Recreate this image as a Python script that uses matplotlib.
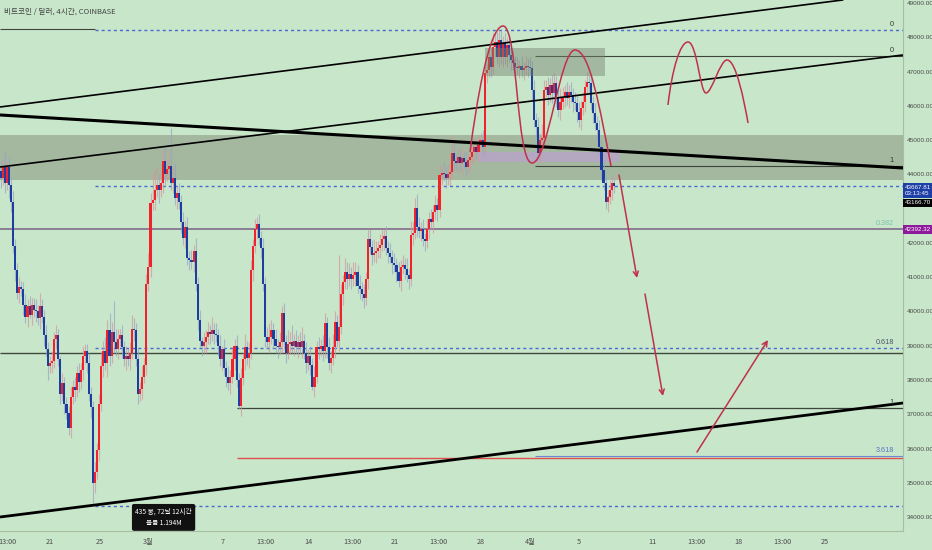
import numpy as np
import matplotlib
matplotlib.use("Agg")
import matplotlib.pyplot as plt
import matplotlib.transforms as mtransforms
from matplotlib.patches import Rectangle, PathPatch
from matplotlib.path import Path

plt.rcParams['font.family'] = ['Noto Sans CJK KR', 'DejaVu Sans']

# BTC/USD 4h closes, Feb 17 00:00 -> Apr 7 20:00 (x axis = days since Mar 1)
closes = [
    43900, 44250, 43750, 44200, 43700,
    43200, 41900, 41200, 40550,
    40700, 40650, 40200, 39850,
    40150, 39900, 40200, 40050,
    40000, 39800, 40150, 39850,
    39300, 38900, 38400, 38500, 38550,
    39200, 39300, 38600, 37600,
    37900, 37300, 37050, 36600,
    37500, 37800, 37700, 38200, 37950,
    38300, 38700, 38850, 38500, 37600, 37200,
    35000, 35300, 35950, 37300, 38400, 38850,
    38500, 39450, 38700, 39400, 39100, 38900, 39200,
    39300, 38950, 38600, 38700, 38600, 38800,
    39500, 39450, 38600, 37600, 37750, 38100, 38450,
    40800, 41300, 43150, 43250, 43550,
    43700, 43550, 43750, 44400, 44000, 44150, 44250,
    43750, 43900, 43300, 43450, 43200,
    42600, 42150, 42450, 41550, 41500,
    41450, 41750, 40800, 39750, 39150, 39000,
    39100, 39250, 39400, 39350, 39450, 39350,
    39300, 39000, 38600, 38900, 38350, 38100, 37900,
    38100, 38600, 39000, 38000, 37250,
    38050, 38600, 38950, 38650, 38800,
    41200, 41900, 42400, 42550,
    42150, 41850, 40800, 39250, 39100,
    39250, 39450, 39200, 39000, 38950, 39100, 39960,
    39100, 38800, 39050, 39100, 39000, 39150, 38950, 39100, 38950,
    39150, 38800, 38500, 38700, 38450, 37800, 38100,
    38950, 38900, 39000, 38850, 39650,
    38950, 38500, 38650, 38950,
    39700, 39150, 39550, 40500,
    40850, 41150, 40950, 41100,
    40950, 41050, 41150, 40750, 40650, 40500,
    40400, 40950, 42100, 41880, 41650, 41700,
    41750, 41850, 41950, 42100, 42200,
    41850, 41700, 41600, 41400, 41350, 41150, 40900,
    41300, 41350, 41250, 41050, 40950,
    42230, 42300, 43020,
    42460, 42350, 42400, 42100, 42050, 42400,
    42700, 42600, 42900, 43100, 42950, 43980,
    44050, 44000, 43900, 44000, 44070, 44620, 44400,
    44330, 44500, 44330, 44480, 44360, 44220, 44420,
    44500, 44650, 44800, 44650, 44850, 45000, 44800,
    46960, 47040, 47420, 47130, 47720, 47860, 47420, 47920,
    47420, 47830, 47420, 47770, 47480, 47340, 47250, 47130, 47100,
    47150, 47040, 47090, 47160, 47130, 47100,
    46460, 45590, 45380, 44620,
    45000, 45060, 46460, 46550, 46310,
    46610, 46370, 46670, 46260, 45880, 46110, 46260,
    46400, 46230, 46400, 46320, 46110, 46080, 45820,
    45590, 45940, 46110, 46550, 46700, 46670,
    46080, 45790, 45500, 45290, 44800, 44130, 43750, 43190,
    43340, 43540, 43750, 43667.81,
]
first_open = 44100
last_bar_day = 37 + 20 / 24

# wick lengths above / below the body, in $100
wick_hi = [
    3, 2, 4, 2, 3, 2, 3, 2, 2, 3,  2, 2, 3, 2, 3, 2, 2, 3, 2, 4,
    2, 2, 3, 2, 2, 3, 2, 3, 2, 1,  3, 2, 2, 2, 3, 2, 3, 2, 3, 2,
    3, 2, 2, 3, 2, 2, 3, 2, 3, 4,  3, 4, 3, 5, 3, 9, 4, 3, 2, 3,
    2, 3, 2, 3, 4, 3, 2, 3, 2, 3,  2, 3, 4, 3, 8, 6, 5, 3, 4, 3,
    4, 3, 5, 11, 3, 4, 2, 3, 2, 3,  2, 3, 2, 3, 2, 4, 2, 3, 1, 3,
    2, 3, 2, 4, 2, 3, 2, 3, 1, 3,  2, 3, 2, 3, 2, 3, 2, 3, 2, 4,
    2, 3, 3, 2, 3, 2, 3, 2, 3, 2,  3, 4, 3, 2, 3, 2, 3, 2, 3, 2,
    4, 3, 5, 2, 3, 2, 3, 4, 2, 3,  2, 3, 2, 3, 2, 3, 2, 3, 3, 2,
    3, 2, 4, 3, 2, 21, 3, 2, 4, 3,  3, 2, 4, 3, 2, 3, 2, 3, 2, 3,
    3, 2, 4, 3, 2, 3, 3, 2, 3, 2,  3, 2, 3, 2, 3, 2, 3, 2, 3, 2,
    4, 3, 3, 4, 3, 2, 3, 2, 3, 2,  3, 2, 3, 2, 3, 2, 3, 2, 3, 2,
    5, 3, 2, 3, 2, 3, 2, 3, 2, 3,  2, 3, 2, 3, 2, 3, 3, 2, 3, 3,
    4, 3, 3, 3, 3, 2, 3, 2, 3, 2,  3, 2, 3, 2, 3, 2, 3, 2, 3, 2,
    3, 2, 3, 2, 4, 3, 2, 3, 2, 3,  3, 2, 3, 4, 3, 2, 3, 2, 3, 2,
    3, 2, 3, 2, 3, 2, 3, 2, 3, 2,  3, 2, 3, 2, 3, 2, 2, 3, 2, 1,
]
wick_lo = [
    3, 2, 3, 2, 4, 3, 2, 3, 2, 3,  2, 3, 2, 3, 1, 3, 2, 3, 2, 3,
    2, 3, 2, 4, 2, 3, 2, 3, 2, 3,  2, 3, 2, 2, 3, 2, 3, 2, 3, 2,
    3, 2, 3, 2, 3, 6, 3, 2, 3, 2,  3, 2, 4, 3, 2, 3, 2, 3, 2, 3,
    2, 3, 2, 3, 2, 3, 2, 3, 2, 3,  2, 3, 2, 3, 2, 3, 2, 4, 2, 3,
    3, 2, 3, 2, 3, 2, 3, 2, 3, 2,  3, 2, 3, 2, 3, 2, 3, 2, 3, 2,
    3, 2, 3, 2, 3, 2, 3, 2, 3, 2,  3, 2, 3, 2, 3, 2, 1, 3, 2, 3,
    2, 3, 2, 3, 2, 3, 2, 3, 2, 3,  2, 3, 2, 3, 2, 3, 2, 3, 2, 3,
    2, 3, 2, 3, 2, 3, 2, 3, 2, 3,  2, 3, 1, 3, 2, 3, 2, 3, 2, 3,
    2, 3, 2, 3, 2, 3, 2, 3, 2, 3,  2, 3, 2, 3, 2, 3, 2, 3, 2, 3,
    2, 3, 2, 3, 2, 3, 2, 3, 2, 3,  2, 3, 2, 3, 2, 3, 2, 3, 2, 3,
    2, 3, 2, 3, 2, 3, 2, 3, 2, 3,  2, 3, 2, 3, 2, 3, 2, 3, 2, 3,
    2, 3, 2, 3, 2, 3, 2, 3, 2, 3,  2, 3, 2, 3, 2, 3, 2, 3, 2, 3,
    2, 3, 2, 3, 2, 3, 2, 3, 2, 3,  2, 3, 2, 3, 2, 3, 2, 3, 2, 3,
    2, 3, 2, 3, 2, 3, 2, 3, 2, 3,  2, 3, 2, 3, 2, 3, 2, 3, 2, 3,
    2, 3, 2, 3, 2, 3, 2, 3, 2, 3,  2, 3, 2, 3, 2, 2, 3, 2, 3, 2,
]

# axis ticks
price_ticks = [34000, 35000, 36000, 37000, 38000, 39000, 40000, 41000,
               42000, 44000, 45000, 46000, 47000, 48000, 49000]
time_ticks = [-11.46, -8, -4, 0, 6, 9.54, 13, 16.54, 20, 23.54, 27, 31, 35,
              41, 44.54, 48, 51.54, 55]
time_labels = ["13:00", "21", "25", "3월", "7", "13:00", "14", "13:00", "21",
               "13:00", "28", "4월", "5", "11", "13:00", "18", "13:00", "25"]

# drawn objects (day, price)
x_min, x_max = -12.07, 61.35
y_min, y_max = 33593, 49087
trend_thin_a = [(-12.07, 45965), (56.5, 49090)]
trend_thin_b = [(-12.07, 44214), (61.35, 47483)]
trend_thick_top = [(-12.07, 45732), (61.35, 44185)]
trend_thick_bottom = [(-12.07, 34001), (61.35, 37328)]
zone_top, zone_bottom = 45148, 43835
top_box = (27.37, 37.11, 46870, 47687)
purple_box = (26.8, 38.34, 44360, 44652)
ray_start = -4.34
fib_start = 31.43
low_start = 7.22

m_curve_days = [26.15, 26.63, 27.69, 28.83, 30.05, 29.89, 31.19, 32.49,
                33.46, 34.68, 35.90, 36.72, 37.61]
m_curve_prices = [44652, 46024, 48329, 48329, 48329, 44331, 44331, 44331,
                  47629, 47629, 47629, 45878, 44244]
right_m_days = [42.24, 42.57, 43.22, 43.87, 44.60, 44.85, 45.33, 45.82,
                46.47, 47.04, 47.77, 48.42, 48.75]
right_m_prices = [46024, 47045, 47862, 47862, 47862, 46374, 46374, 46374,
                  47337, 47337, 47337, 46170, 45498]
arrows = [((38.26, 43981), (39.72, 40976)),
          ((40.37, 40509), (41.83, 37532)),
          ((44.60, 35898), (50.37, 39166))]

BG = '#c8e6c9'
UP = '#f2222c'
DOWN = '#1c3e9e'
RED_DRAW = '#c0304c'
BLUE_DASH = '#4a6ad0'
NUM_FONT = ['Liberation Sans', 'DejaVu Sans']

fig = plt.figure(figsize=(9.32, 5.5), dpi=100, facecolor=BG)
ax = fig.add_axes([0, 1 - 531 / 550, 903 / 932, 531 / 550], facecolor=BG)
ax.set_xlim(x_min, x_max)
ax.set_ylim(y_min, y_max)

# gray zone and boxes
ax.axhspan(zone_bottom, zone_top, color='#a3b89f', zorder=1, lw=0)
ax.add_patch(Rectangle((purple_box[0], purple_box[2]), purple_box[1] - purple_box[0],
                       purple_box[3] - purple_box[2], fc='#b8a6c6', ec='none',
                       alpha=0.85, zorder=1.5))

# horizontal levels
ax.hlines(48240, x_min, ray_start, colors='#3c463c', lw=0.8, zorder=2)
for lvl in [48212, 43667.81, 38933, 34323]:
    ax.hlines(lvl, ray_start, x_max, colors=BLUE_DASH, lw=1.0,
              linestyles=(0, (2.2, 2.2)), zorder=2)
ax.hlines(47453, fib_start, x_max, colors='#3c463c', lw=0.8, zorder=2)
ax.hlines(44244, fib_start, x_max, colors='#3c463c', lw=0.8, zorder=2)
ax.hlines(42392.32, x_min, x_max, colors='#8c7e94', lw=1.4, zorder=2)
ax.hlines(38787, x_min, x_max, colors='#3c4a3c', lw=1.0, zorder=2)
ax.hlines(37182, low_start, x_max, colors='#3c463c', lw=0.9, zorder=2)
ax.hlines(35723, low_start, x_max, colors='#e0504c', lw=1.0, zorder=2)
ax.hlines(35770, fib_start, x_max, colors='#6f86d6', lw=0.8, zorder=2)

# candles
n = len(closes)
days = last_bar_day - (n - 1 - np.arange(n)) / 6
c = np.array(closes, dtype=float)
o = np.concatenate([[first_open], c[:-1]])
hi = np.maximum(o, c) + np.array(wick_hi) * 100
lo = np.minimum(o, c) - np.array(wick_lo) * 100
up = c >= o
cols = np.where(up, UP, DOWN)
ax.vlines(days, lo, hi, colors=np.where(up, '#d4959b', '#97a2c8'), lw=0.8,
          alpha=0.7, zorder=2.5)
body = np.maximum(np.abs(c - o), 25)
ax.bar(days, body, bottom=np.minimum(o, c), width=0.17, color=cols,
       lw=0, zorder=3)

# trend lines
for pts, lw in [(trend_thin_a, 1.2), (trend_thin_b, 1.2),
                (trend_thick_top, 2.2), (trend_thick_bottom, 2.0)]:
    ax.plot([pts[0][0], pts[1][0]], [pts[0][1], pts[1][1]], color='black',
            lw=lw, zorder=4, solid_capstyle='butt')

ax.add_patch(Rectangle((top_box[0], top_box[2]), top_box[1] - top_box[0],
                       top_box[3] - top_box[2], fc='#76826f', ec='none',
                       alpha=0.45, zorder=4.5))


def bezier_patch(dx, py):
    verts = list(zip(dx, py))
    codes = [Path.MOVETO] + [Path.CURVE4] * (len(verts) - 1)
    return PathPatch(Path(verts, codes), fc='none', ec=RED_DRAW, lw=1.1,
                     zorder=5)


ax.add_patch(bezier_patch(m_curve_days, m_curve_prices))
ax.add_patch(bezier_patch(right_m_days, right_m_prices))
for start, end in arrows:
    ax.annotate('', xy=end, xytext=start,
                arrowprops=dict(arrowstyle='->', color=RED_DRAW, lw=1.1,
                                shrinkA=0, shrinkB=0, mutation_scale=9),
                zorder=5)

# fib labels
trans = mtransforms.blended_transform_factory(ax.transAxes, ax.transData)
fib_labels = [(48212, "0", '#333333'), (47453, "0", '#333333'),
              (44244, "1", '#333333'), (42392.32, "0.382", '#7cc3b2'),
              (38933, "0.618", '#4a5468'), (37182, "1", '#333333'),
              (35770, "3.618", '#5a72c8')]
for lvl, txt, col in fib_labels:
    ax.text(0.99, lvl + 60, txt, transform=trans, ha='right', va='bottom',
            fontsize=5.2, color=col, family=NUM_FONT, zorder=6)

# axes styling
for s in ['top', 'left']:
    ax.spines[s].set_visible(False)
for s in ['right', 'bottom']:
    ax.spines[s].set_color('#a6bea4')
    ax.spines[s].set_linewidth(0.8)
ax.yaxis.tick_right()
ax.set_yticks(price_ticks)
ax.set_yticklabels([f"{v:.2f}" for v in price_ticks], family=NUM_FONT)
ax.tick_params(axis='y', length=0, pad=2.5, labelsize=4.6, labelcolor='#4a4a4a')
ax.set_xticks(time_ticks)
ax.set_xticklabels(time_labels)
ax.tick_params(axis='x', length=0, pad=5, labelsize=5.2, labelcolor='#4a4a4a')

# price tags on the scale
ax.text(1.002, 43667.81 - 130, "43667.81\n03:13:45", transform=trans,
        ha='left', va='center', fontsize=4.5, color='white', family=NUM_FONT,
        linespacing=1.3, clip_on=False, zorder=7,
        bbox=dict(boxstyle='square,pad=0.3', fc='#1d3fa6', ec='none'))
ax.text(1.002, 43166.70, "43166.70", transform=trans, ha='left', va='center',
        fontsize=4.5, color='white', family=NUM_FONT, clip_on=False, zorder=7,
        bbox=dict(boxstyle='square,pad=0.3', fc='black', ec='none'))
ax.text(1.002, 42392.32, "42392.32", transform=trans, ha='left', va='center',
        fontsize=4.5, color='white', family=NUM_FONT, clip_on=False, zorder=7,
        bbox=dict(boxstyle='square,pad=0.35', fc='#8e1a9c', ec='none'))

# range tooltip
ax.text(1.23, 33990, "435 봉, 72날 12시간\n볼륨 1.194M", ha='center', va='center',
        fontsize=4.8, color='white', linespacing=1.7, zorder=8, clip_on=False,
        bbox=dict(boxstyle='round,pad=0.5,rounding_size=0.3', fc='#111111',
                  ec='none'))

fig.text(4 / 932, 1 - 12 / 550, "비트코인 / 달러, 4시간, COINBASE", ha='left',
         va='center', fontsize=5.5, color='#444444')

fig.savefig("out.png", dpi=100, facecolor=BG)
